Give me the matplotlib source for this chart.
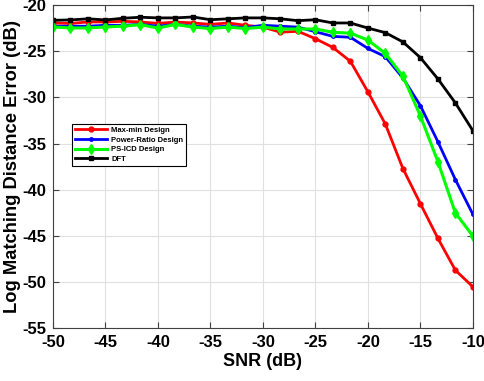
import numpy as np
import matplotlib
matplotlib.use("Agg")
import matplotlib.pyplot as plt

plt.rcParams['font.family'] = ['Liberation Sans', 'DejaVu Sans']
plt.rcParams['font.weight'] = 'bold'
plt.rcParams['axes.unicode_minus'] = False

# SNR points (25 points from -50 to -10 dB)
snr = np.linspace(-50, -10, 25)

maxmin = [-21.95, -22.0, -21.84, -21.84, -21.77, -21.84, -22.0, -21.84, -21.95, -22.1,
          -21.95, -22.2, -22.4, -22.95, -22.85, -23.65, -24.6, -26.1, -29.4, -32.9,
          -37.7, -41.5, -45.25, -48.7, -50.5]
power_ratio = [-22.3, -22.3, -22.3, -22.2, -22.2, -22.1, -22.3, -22.1, -22.3, -22.4,
               -22.3, -22.45, -22.2, -22.3, -22.4, -22.9, -23.4, -23.5, -24.7, -25.6,
               -27.9, -30.9, -34.8, -38.9, -42.65]
ps_icd = [-22.38, -22.49, -22.49, -22.38, -22.3, -22.13, -22.5, -22.1, -22.4, -22.55,
          -22.4, -22.55, -22.4, -22.6, -22.6, -22.6, -22.96, -23.05, -23.8, -25.25,
          -27.7, -32.0, -36.95, -42.5, -45.0]
dft = [-21.66, -21.62, -21.5, -21.62, -21.44, -21.33, -21.4, -21.4, -21.3, -21.6,
       -21.5, -21.4, -21.4, -21.5, -21.7, -21.6, -21.95, -21.95, -22.5, -23.0,
       -24.0, -25.7, -28.0, -30.6, -33.6]

fig = plt.figure(figsize=(4.84, 3.81), dpi=100)
ax = fig.add_axes([0.1095, 0.138, 0.8675, 0.849])

ax.plot(snr, maxmin, color='#ff0000', lw=2, marker='o', ms=3.5, label='Max-min Design')
ax.plot(snr, power_ratio, color='#0000ff', lw=2, marker='o', ms=2.5, label='Power-Ratio Design')
ax.plot(snr, ps_icd, color='#00ff00', lw=2.2, marker='d', ms=5, label='PS-ICD Design')
ax.plot(snr, dft, color='#000000', lw=2, marker='s', ms=3.5, label='DFT')

ax.set_xlim(-50, -10)
ax.set_ylim(-55, -20)
ax.set_xticks(np.arange(-50, -9, 5))
ax.set_yticks(np.arange(-55, -19, 5))
ax.grid(True, color='#e0e0e0', lw=0.8)
ax.tick_params(direction='in', top=True, right=True, labelsize=12, length=4, color='#404040')
ax.tick_params(axis='y', pad=5)
ax.tick_params(axis='x', pad=5)
for s in ax.spines.values():
    s.set_color('#404040')
for lbl in ax.get_xticklabels() + ax.get_yticklabels():
    lbl.set_fontweight('bold')

ax.set_xlabel('SNR (dB)', fontsize=13, fontweight='bold', labelpad=2)
ax.set_ylabel('Log Matching Distance Error (dB)', fontsize=13.2, fontweight='bold', labelpad=1)

leg = ax.legend(loc='upper left', bbox_to_anchor=(0.035, 0.645), fontsize=5.5,
                fancybox=False, edgecolor='black', framealpha=1, handlelength=4.2,
                borderpad=0.4, labelspacing=0.3, handletextpad=0.6)
leg.get_frame().set_linewidth(0.8)
for t in leg.get_texts():
    t.set_fontweight('bold')

fig.savefig('out.png', dpi=100)
